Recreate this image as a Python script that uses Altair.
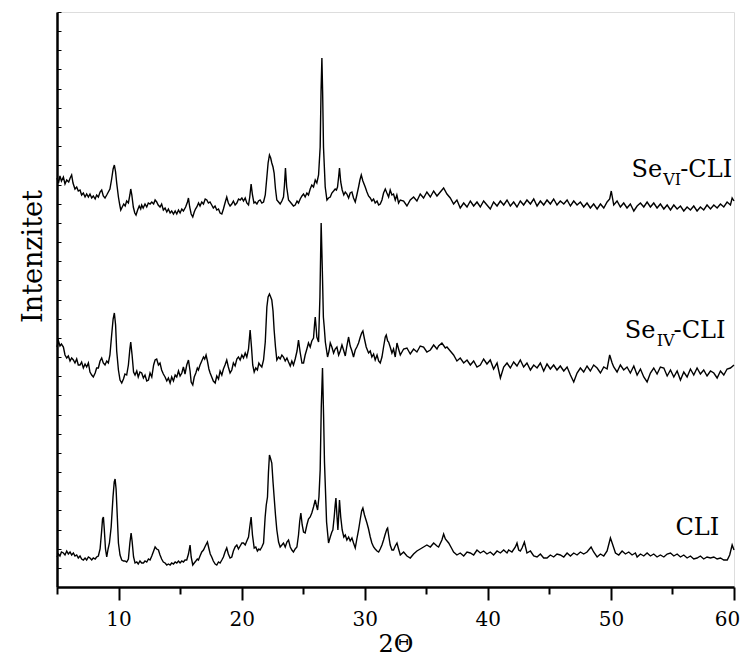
import altair as alt
import pandas as pd

# ---------------- data ----------------
# Se_VI-CLI (top trace)
tt_vi = [
    5.00, 5.12, 5.24, 5.36, 5.52, 5.65, 5.79, 5.95, 6.07, 6.19,
    6.30, 6.46, 6.60, 6.73, 6.87, 7.00, 7.14, 7.28, 7.41, 7.55,
    7.68, 7.82, 7.95, 8.10, 8.22, 8.36, 8.50, 8.63, 8.76, 8.90,
    9.04, 9.17, 9.30, 9.44, 9.56, 9.66, 9.76, 9.85, 9.99, 10.10,
    10.18, 10.30, 10.42, 10.54, 10.66, 10.80, 10.92, 10.99, 11.08, 11.20,
    11.32, 11.42, 11.55, 11.68, 11.80, 11.88, 12.00, 12.15, 12.29, 12.42,
    12.56, 12.70, 12.85, 12.97, 13.10, 13.22, 13.37, 13.50, 13.64, 13.78,
    13.92, 14.05, 14.19, 14.32, 14.46, 14.60, 14.73, 14.87, 15.00, 15.14,
    15.27, 15.45, 15.60, 15.68, 15.78, 15.90, 16.03, 16.15, 16.25, 16.36,
    16.50, 16.62, 16.76, 16.90, 17.04, 17.17, 17.30, 17.43, 17.57, 17.70,
    17.84, 17.98, 18.12, 18.25, 18.39, 18.52, 18.65, 18.79, 18.92, 19.06,
    19.20, 19.33, 19.47, 19.61, 19.75, 19.88, 20.02, 20.15, 20.29, 20.42,
    20.56, 20.66, 20.77, 20.88, 21.00, 21.10, 21.24, 21.37, 21.50, 21.64,
    21.78, 21.92, 22.05, 22.15, 22.26, 22.36, 22.45, 22.55, 22.64, 22.75,
    22.86, 23.00, 23.13, 23.27, 23.40, 23.48, 23.56, 23.66, 23.81, 23.95,
    24.08, 24.21, 24.35, 24.50, 24.62, 24.76, 24.90, 25.03, 25.16, 25.30,
    25.43, 25.57, 25.70, 25.84, 25.98, 26.11, 26.25, 26.38, 26.45, 26.52,
    26.58, 26.65, 26.79, 26.93, 27.06, 27.20, 27.33, 27.47, 27.60, 27.70,
    27.79, 27.88, 27.95, 28.05, 28.17, 28.30, 28.42, 28.55, 28.69, 28.82,
    28.96, 29.09, 29.23, 29.36, 29.50, 29.61, 29.72, 29.85, 30.04, 30.18,
    30.31, 30.45, 30.58, 30.72, 30.85, 31.00, 31.13, 31.26, 31.40, 31.53,
    31.67, 31.80, 31.94, 32.07, 32.21, 32.34, 32.48, 32.61, 32.75, 32.89,
    33.16, 33.43, 33.70, 33.97, 34.24, 34.51, 34.78, 35.05, 35.33, 35.60,
    35.87, 36.14, 36.41, 36.68, 36.95, 37.22, 37.49, 37.76, 38.04, 38.31,
    38.58, 38.85, 39.12, 39.39, 39.66, 39.93, 40.20, 40.47, 40.75, 41.02,
    41.29, 41.56, 41.83, 42.10, 42.37, 42.64, 42.91, 43.18, 43.46, 43.73,
    44.00, 44.27, 44.54, 44.81, 45.08, 45.35, 45.62, 45.89, 46.17, 46.44,
    46.71, 46.98, 47.25, 47.52, 47.79, 48.06, 48.33, 48.60, 48.88, 49.15,
    49.42, 49.69, 49.90, 50.03, 50.10, 50.23, 50.50, 50.77, 51.04, 51.31,
    51.58, 51.86, 52.13, 52.40, 52.67, 52.94, 53.21, 53.48, 53.75, 54.02,
    54.30, 54.57, 54.84, 55.11, 55.38, 55.65, 55.92, 56.19, 56.46, 56.73,
    57.00, 57.27, 57.54, 57.81, 58.09, 58.36, 58.63, 58.90, 59.17, 59.44,
    59.71, 59.85, 60.00,
]
I_vi = [
    409, 404, 411, 406, 410, 403, 407, 405, 409, 412,
    404, 398, 400, 396, 397, 392, 394, 390, 393, 390,
    393, 389, 391, 388, 392, 390, 395, 397, 391, 389,
    392, 395, 398, 408, 418, 422, 415, 404, 390, 382,
    377, 380, 383, 381, 386, 384, 392, 398, 392, 380,
    374, 372, 377, 381, 378, 382, 379, 383, 380, 384,
    383, 385, 383, 387, 385, 382, 380, 383, 377, 379,
    375, 378, 374, 376, 373, 376, 373, 377, 374, 378,
    376, 380, 385, 389, 380, 373, 370, 375, 378, 380,
    384, 381, 385, 383, 388, 387, 384, 385, 382, 379,
    381, 377, 378, 374, 373, 378, 384, 390, 384, 381,
    383, 386, 382, 384, 388, 387, 389, 386, 389, 384,
    382, 390, 403, 392, 384, 385, 383, 386, 387, 384,
    385, 392, 410, 424, 432, 429, 424, 420, 414, 398,
    387, 385, 383, 386, 390, 402, 419, 400, 387, 385,
    383, 381, 382, 386, 384, 388, 391, 393, 390, 394,
    392, 398, 402, 400, 407, 404, 412, 440, 495, 529,
    495, 440, 400, 387, 389, 390, 394, 396, 398, 397,
    400, 410, 419, 405, 397, 392, 395, 393, 389, 394,
    395, 389, 385, 392, 400, 407, 412, 406, 400, 395,
    391, 389, 386, 388, 384, 386, 382, 383, 387, 394,
    398, 394, 390, 397, 392, 393, 387, 392, 384, 387,
    386, 381, 387, 390, 386, 393, 389, 395, 390, 396,
    391, 395, 399, 393, 389, 383, 387, 379, 384, 380,
    386, 381, 385, 380, 386, 382, 378, 385, 381, 386,
    382, 387, 381, 385, 380, 386, 382, 387, 383, 388,
    381, 386, 382, 387, 383, 388, 382, 386, 383, 387,
    381, 386, 382, 385, 380, 384, 379, 383, 378, 383,
    379, 385, 388, 396, 391, 382, 386, 380, 384, 379,
    383, 376, 381, 384, 380, 385, 380, 384, 379, 383,
    378, 382, 377, 382, 378, 381, 376, 380, 377, 381,
    376, 380, 377, 382, 378, 382, 379, 383, 380, 385,
    382, 389, 386,
]

# Se_IV-CLI (middle trace)
tt_iv = [
    5.00, 5.12, 5.24, 5.36, 5.52, 5.65, 5.79, 5.92, 6.06, 6.19,
    6.33, 6.46, 6.60, 6.73, 6.87, 7.00, 7.14, 7.28, 7.41, 7.55,
    7.68, 7.82, 7.95, 8.10, 8.22, 8.36, 8.50, 8.63, 8.76, 8.90,
    9.04, 9.17, 9.30, 9.44, 9.56, 9.66, 9.76, 9.85, 9.99, 10.12,
    10.26, 10.40, 10.52, 10.66, 10.80, 10.92, 10.99, 11.10, 11.22, 11.34,
    11.48, 11.60, 11.74, 11.88, 12.02, 12.15, 12.29, 12.43, 12.56, 12.70,
    12.85, 12.97, 13.10, 13.24, 13.37, 13.50, 13.64, 13.78, 13.92, 14.05,
    14.19, 14.32, 14.46, 14.60, 14.73, 14.87, 15.00, 15.14, 15.27, 15.40,
    15.54, 15.68, 15.81, 15.90, 16.03, 16.15, 16.28, 16.40, 16.49, 16.62,
    16.76, 16.90, 17.00, 17.11, 17.22, 17.34, 17.44, 17.57, 17.70, 17.85,
    17.98, 18.12, 18.25, 18.39, 18.52, 18.65, 18.79, 18.92, 19.06, 19.20,
    19.33, 19.47, 19.61, 19.74, 19.88, 20.02, 20.15, 20.29, 20.42, 20.56,
    20.69, 20.80, 20.90, 21.02, 21.15, 21.28, 21.40, 21.50, 21.64, 21.78,
    21.92, 22.05, 22.15, 22.26, 22.36, 22.45, 22.55, 22.64, 22.75, 22.86,
    23.00, 23.13, 23.27, 23.40, 23.54, 23.68, 23.81, 23.95, 24.08, 24.21,
    24.35, 24.50, 24.62, 24.75, 24.90, 25.03, 25.16, 25.30, 25.43, 25.57,
    25.70, 25.84, 25.92, 25.98, 26.06, 26.11, 26.25, 26.36, 26.46, 26.55,
    26.64, 26.71, 26.80, 26.98, 27.10, 27.20, 27.33, 27.47, 27.60, 27.74,
    27.88, 28.01, 28.15, 28.28, 28.42, 28.55, 28.69, 28.82, 28.96, 29.09,
    29.23, 29.36, 29.50, 29.64, 29.75, 29.85, 29.98, 30.12, 30.31, 30.45,
    30.58, 30.72, 30.85, 31.00, 31.13, 31.26, 31.40, 31.53, 31.67, 31.75,
    31.86, 31.94, 32.07, 32.21, 32.34, 32.48, 32.62, 32.75, 32.89, 33.16,
    33.43, 33.70, 33.97, 34.24, 34.51, 34.78, 35.05, 35.33, 35.60, 35.87,
    36.00, 36.27, 36.55, 36.68, 36.95, 37.22, 37.49, 37.76, 38.04, 38.31,
    38.58, 38.85, 39.12, 39.39, 39.66, 39.93, 40.20, 40.47, 40.75, 41.02,
    41.29, 41.56, 41.83, 42.10, 42.37, 42.64, 42.91, 43.18, 43.46, 43.73,
    44.00, 44.27, 44.54, 44.81, 45.08, 45.35, 45.62, 45.89, 46.17, 46.44,
    46.71, 46.98, 47.25, 47.52, 47.79, 48.06, 48.33, 48.60, 48.88, 49.15,
    49.42, 49.69, 49.90, 50.10, 50.23, 50.50, 50.77, 51.04, 51.31, 51.58,
    51.86, 52.13, 52.40, 52.67, 52.94, 53.21, 53.48, 53.75, 54.02, 54.30,
    54.57, 54.84, 55.11, 55.38, 55.65, 55.92, 56.19, 56.46, 56.73, 57.00,
    57.27, 57.54, 57.81, 58.09, 58.36, 58.63, 58.90, 59.17, 59.44, 59.71,
    60.00,
]
I_iv = [
    240, 246, 241, 243, 240, 232, 229, 231, 226, 229,
    227, 224, 228, 222, 222, 225, 219, 223, 220, 224,
    215, 212, 210, 214, 219, 219, 226, 229, 224, 222,
    226, 224, 232, 252, 268, 274, 262, 236, 217, 207,
    204, 208, 213, 212, 222, 238, 245, 232, 215, 212,
    216, 210, 215, 214, 209, 212, 206, 207, 214, 210,
    222, 227, 228, 222, 224, 217, 213, 210, 206, 209,
    204, 210, 206, 212, 210, 216, 211, 214, 220, 213,
    222, 227, 216, 205, 202, 210, 214, 219, 217, 222,
    226, 230, 228, 232, 226, 218, 214, 210, 206, 204,
    211, 208, 216, 212, 218, 222, 227, 220, 214, 217,
    224, 221, 228, 230, 227, 232, 229, 234, 230, 238,
    257, 240, 222, 215, 219, 217, 224, 222, 220, 227,
    245, 280, 290, 293, 290, 287, 276, 257, 240, 227,
    230, 228, 232, 230, 226, 229, 225, 221, 226, 222,
    228, 236, 247, 235, 224, 224, 232, 238, 244, 240,
    246, 249, 262, 270, 258, 250, 245, 290, 364, 320,
    270, 260, 245, 230, 236, 244, 240, 234, 238, 240,
    232, 236, 242, 237, 231, 241, 250, 241, 236, 230,
    237, 240, 244, 250, 254, 256, 248, 240, 234, 236,
    230, 233, 227, 232, 226, 224, 230, 240, 250, 252,
    246, 245, 240, 234, 238, 230, 244, 238, 232, 238,
    239, 233, 238, 235, 241, 240, 235, 237, 242, 238,
    241, 244, 239, 240, 236, 232, 226, 229, 224, 227,
    222, 226, 220, 222, 228, 223, 227, 218, 224, 209,
    220, 224, 219, 225, 221, 227, 220, 224, 217, 222,
    219, 224, 216, 223, 218, 222, 217, 221, 216, 220,
    212, 205, 214, 219, 215, 221, 216, 222, 219, 214,
    220, 218, 232, 224, 220, 215, 222, 217, 220, 214,
    221, 212, 218, 210, 205, 214, 219, 213, 220, 219,
    211, 217, 210, 216, 207, 215, 210, 218, 212, 219,
    213, 217, 211, 216, 214, 209, 216, 212, 218, 219,
    222,
]

# CLI (bottom trace)
tt_cli = [
    5.00, 5.12, 5.24, 5.36, 5.52, 5.65, 5.79, 5.92, 6.06, 6.19,
    6.33, 6.46, 6.60, 6.73, 6.87, 7.00, 7.14, 7.28, 7.41, 7.55,
    7.68, 7.82, 7.95, 8.10, 8.22, 8.36, 8.50, 8.62, 8.70, 8.77,
    8.84, 8.94, 9.04, 9.15, 9.26, 9.40, 9.55, 9.65, 9.72, 9.80,
    9.90, 9.99, 10.12, 10.26, 10.40, 10.52, 10.66, 10.80, 10.92, 11.02,
    11.10, 11.22, 11.34, 11.48, 11.60, 11.74, 11.88, 12.02, 12.15, 12.29,
    12.43, 12.56, 12.70, 12.85, 12.97, 13.10, 13.24, 13.37, 13.50, 13.64,
    13.78, 13.92, 14.05, 14.19, 14.32, 14.46, 14.60, 14.73, 14.87, 15.00,
    15.14, 15.27, 15.40, 15.54, 15.68, 15.81, 15.90, 16.03, 16.15, 16.28,
    16.40, 16.49, 16.62, 16.76, 16.90, 17.05, 17.22, 17.35, 17.45, 17.57,
    17.70, 17.85, 17.98, 18.12, 18.25, 18.39, 18.52, 18.65, 18.79, 18.92,
    19.06, 19.20, 19.33, 19.47, 19.61, 19.74, 19.88, 20.02, 20.15, 20.29,
    20.42, 20.56, 20.66, 20.77, 20.88, 21.02, 21.15, 21.28, 21.40, 21.50,
    21.64, 21.78, 21.91, 22.00, 22.10, 22.18, 22.26, 22.36, 22.45, 22.55,
    22.64, 22.75, 22.86, 23.00, 23.13, 23.27, 23.40, 23.54, 23.68, 23.81,
    23.95, 24.08, 24.21, 24.35, 24.49, 24.62, 24.72, 24.81, 24.92, 25.03,
    25.16, 25.30, 25.43, 25.57, 25.70, 25.84, 25.98, 26.07, 26.17, 26.28,
    26.38, 26.47, 26.57, 26.66, 26.73, 26.79, 26.90, 27.06, 27.20, 27.33,
    27.41, 27.52, 27.60, 27.66, 27.74, 27.82, 27.88, 27.95, 28.05, 28.17,
    28.30, 28.42, 28.55, 28.69, 28.82, 28.96, 29.09, 29.23, 29.36, 29.50,
    29.64, 29.75, 29.85, 29.98, 30.18, 30.31, 30.45, 30.58, 30.72, 30.85,
    31.00, 31.13, 31.26, 31.40, 31.53, 31.67, 31.80, 31.86, 31.94, 32.07,
    32.21, 32.34, 32.48, 32.62, 32.75, 32.89, 33.16, 33.43, 33.70, 33.97,
    34.24, 34.51, 34.78, 35.05, 35.33, 35.60, 35.87, 36.00, 36.27, 36.41,
    36.55, 36.82, 37.09, 37.22, 37.49, 37.76, 38.04, 38.31, 38.58, 38.85,
    39.12, 39.39, 39.66, 39.93, 40.20, 40.47, 40.75, 41.02, 41.29, 41.56,
    41.69, 41.96, 42.24, 42.37, 42.51, 42.64, 42.78, 42.97, 43.18, 43.46,
    43.73, 44.00, 44.27, 44.54, 44.81, 45.08, 45.35, 45.62, 45.89, 46.17,
    46.44, 46.71, 46.98, 47.25, 47.52, 47.79, 48.06, 48.39, 48.60, 48.88,
    49.15, 49.42, 49.69, 49.96, 50.10, 50.37, 50.64, 50.91, 51.18, 51.45,
    51.72, 51.99, 52.13, 52.40, 52.67, 52.94, 53.21, 53.48, 53.75, 54.02,
    54.30, 54.57, 54.84, 55.11, 55.38, 55.65, 55.92, 56.19, 56.46, 56.73,
    57.00, 57.27, 57.54, 57.81, 58.09, 58.36, 58.63, 58.90, 59.17, 59.45,
    59.65, 59.85, 60.00,
]
I_cli = [
    30, 33, 31, 35, 34, 32, 36, 33, 35, 32,
    34, 31, 32, 29, 31, 28, 27, 29, 27, 30,
    29, 27, 29, 28, 30, 31, 38, 55, 68, 70,
    58, 38, 30, 38, 44, 60, 90, 105, 108, 98,
    70, 44, 32, 27, 26, 26, 25, 28, 44, 54,
    46, 30, 24, 25, 23, 26, 24, 24, 26, 25,
    28, 27, 31, 36, 40, 38, 37, 32, 28, 25,
    24, 22, 23, 22, 24, 23, 25, 24, 26, 24,
    26, 25, 27, 27, 33, 42, 30, 22, 24, 26,
    28, 27, 31, 35, 37, 41, 45, 38, 33, 30,
    26, 23, 22, 25, 24, 27, 30, 35, 39, 33,
    29, 30, 36, 40, 42, 38, 41, 44, 44, 42,
    46, 50, 60, 70, 52, 39, 40, 36, 38, 37,
    40, 44, 70, 82, 90, 115, 132, 128, 124, 105,
    90, 72, 57, 45, 40, 42, 44, 40, 45, 47,
    40, 37, 35, 38, 40, 52, 66, 74, 62, 55,
    54, 62, 68, 70, 74, 80, 87, 82, 77, 90,
    117, 180, 219, 170, 125, 104, 65, 44, 50, 55,
    57, 70, 82, 89, 72, 57, 70, 87, 70, 57,
    50, 52, 47, 50, 46, 49, 44, 39, 48, 57,
    68, 76, 79, 72, 64, 58, 50, 44, 40, 38,
    36, 35, 38, 42, 47, 53, 58, 59, 52, 42,
    37, 37, 41, 44, 38, 32, 35, 31, 29, 33,
    36, 38, 40, 42, 40, 44, 41, 40, 47, 53,
    48, 44, 38, 35, 32, 34, 31, 35, 34, 32,
    37, 34, 36, 33, 35, 32, 36, 34, 37, 34,
    37, 35, 40, 44, 37, 36, 39, 45, 34, 36,
    31, 30, 33, 29, 29, 32, 30, 33, 32, 30,
    34, 31, 34, 32, 35, 33, 35, 40, 35, 30,
    33, 31, 36, 49, 44, 34, 32, 36, 33, 35,
    32, 34, 30, 33, 31, 34, 31, 33, 30, 32,
    30, 33, 34, 31, 33, 30, 32, 29, 31, 28,
    29, 31, 28, 30, 29, 30, 28, 29, 27, 27,
    32, 42, 37,
]

series_names = ["Se_VI-CLI", "Se_IV-CLI", "CLI"]

# series labels (main text, subscript, rest) and their right-end anchors
label_pre = ["Se", "Se", ""]
label_sub = ["VI", "IV", ""]
label_post = ["-CLI", "-CLI", "CLI"]
label_tt = [59.85, 59.31, 58.80]
label_I = [410, 249, 52]

x_major = [10, 20, 30, 40, 50, 60]
x_minor = [5, 15, 25, 35, 45, 55]
y_top = 575
y_ticks = [round(y_top * i / 30, 2) for i in range(31)]

# ---------------- tables ----------------
assert len(tt_vi) == len(I_vi)
assert len(tt_iv) == len(I_iv)
assert len(tt_cli) == len(I_cli)

rows = []
for name, xs, ys in zip(series_names, [tt_vi, tt_iv, tt_cli], [I_vi, I_iv, I_cli]):
    for k, (a, b) in enumerate(zip(xs, ys)):
        rows.append({"tt": a, "I": b, "s": name, "k": k})
df = pd.DataFrame(rows)

lab = pd.DataFrame({"tt": label_tt, "I": label_I, "pre": label_pre,
                    "sub": label_sub, "post": label_post})

FONT = "DejaVu Serif"
xscale = alt.Scale(domain=[5, 60], nice=False, zero=False)
yscale = alt.Scale(domain=[0, y_top], nice=False, zero=False)

lines = alt.Chart(df).mark_line(color="black", strokeWidth=1.4).encode(
    x=alt.X("tt:Q", scale=xscale,
            axis=alt.Axis(orient="bottom", values=x_major, tickSize=13, tickWidth=2,
                          tickColor="black", domainColor="black", domainWidth=2.5,
                          labelFont=FONT, labelFontSize=20, labelColor="black",
                          labelPadding=9, labelFlush=False, grid=False,
                          labelOffset={"condition": {"test": "datum.value == 60",
                                                     "value": -7}, "value": 0},
                          title="2Θ", titleFont=FONT, titleFontSize=24,
                          titleFontWeight="normal", titleColor="black",
                          titleY=64, titleBaseline="alphabetic")),
    y=alt.Y("I:Q", scale=yscale,
            axis=alt.Axis(orient="left", labels=False, ticks=False, grid=False,
                          domainColor="black", domainWidth=2.5,
                          title="Intenzitet", titleFont=FONT, titleFontSize=27,
                          titleFontWeight="normal", titleColor="black",
                          titleAngle=270, titleX=-16, titleY=244,
                          titleAlign="center", titleBaseline="alphabetic")),
    detail="s:N",
    order="k:Q",
)

post = alt.Chart(lab).mark_text(align="right", baseline="alphabetic", font=FONT,
                                fontSize=24, color="black").encode(
    x=alt.X("tt:Q", scale=xscale,
            axis=alt.Axis(orient="bottom", values=x_minor, tickSize=7, tickWidth=2,
                          tickColor="black", labels=False, domain=False, grid=False,
                          title="")),
    y=alt.Y("I:Q", scale=yscale,
            axis=alt.Axis(orient="right", offset=-677, values=y_ticks, tickSize=4,
                          tickWidth=1, tickColor="black", labels=False, domain=False,
                          grid=False, title="")),
    text="post:N",
)

sub = alt.Chart(lab).mark_text(align="right", baseline="alphabetic", font=FONT,
                               fontSize=16, color="black", dx=-51, dy=8).encode(
    x=alt.X("tt:Q", scale=xscale, axis=None),
    y=alt.Y("I:Q", scale=yscale, axis=None),
    text="sub:N",
)

pre = alt.Chart(lab).mark_text(align="right", baseline="alphabetic", font=FONT,
                               fontSize=24, color="black", dx=-70).encode(
    x=alt.X("tt:Q", scale=xscale, axis=None),
    y=alt.Y("I:Q", scale=yscale, axis=None),
    text="pre:N",
)

chart = alt.layer(lines, post, sub, pre).resolve_axis(
    x="independent", y="independent"
).properties(
    width=677, height=575,
    autosize="none",
    padding={"left": 49, "top": 4, "right": 6, "bottom": 70},
).configure_view(strokeWidth=0).configure(background="white")

chart.save("out.html", embed_options={"renderer": "svg", "actions": False})
